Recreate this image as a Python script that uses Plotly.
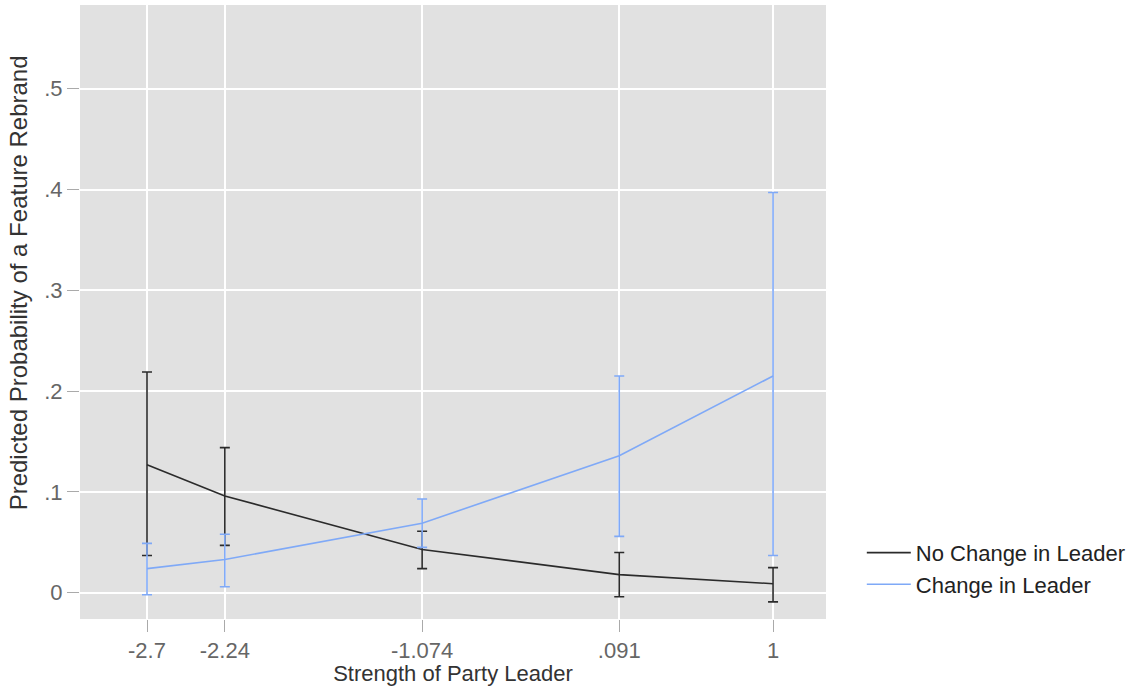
import plotly.graph_objects as go

# Strength of party leader (evaluation points)
strength = [-2.7, -2.24, -1.074, 0.091, 1.0]
tick_text = ["-2.7", "-2.24", "-1.074", ".091", "1"]

# Predicted probabilities with 95% confidence bounds
no_change = [0.127, 0.096, 0.043, 0.018, 0.009]
no_change_hi = [0.219, 0.144, 0.061, 0.040, 0.025]
no_change_lo = [0.037, 0.047, 0.024, -0.004, -0.009]

change = [0.024, 0.033, 0.069, 0.136, 0.215]
change_hi = [0.049, 0.058, 0.093, 0.215, 0.397]
change_lo = [-0.002, 0.006, 0.045, 0.056, 0.037]

y_ticks = [0, 0.1, 0.2, 0.3, 0.4, 0.5]
y_tick_text = ["0", ".1", ".2", ".3", ".4", ".5"]

BLACK = "#2b2b2b"
BLUE = "#7fa9f7"
FONT = "Liberation Sans, Arial, sans-serif"


def err(est, hi, lo):
    return dict(
        type="data",
        symmetric=False,
        array=[h - e for h, e in zip(hi, est)],
        arrayminus=[e - l for e, l in zip(est, lo)],
        thickness=1.6,
        width=5,
    )


fig = go.Figure()
fig.add_trace(go.Scatter(
    x=strength, y=no_change, mode="lines", name="No Change in Leader",
    line=dict(color=BLACK, width=1.6),
    error_y=dict(err(no_change, no_change_hi, no_change_lo), color=BLACK),
))
fig.add_trace(go.Scatter(
    x=strength, y=change, mode="lines", name="Change in Leader",
    line=dict(color=BLUE, width=1.6),
    error_y=dict(err(change, change_hi, change_lo), color=BLUE),
))

fig.update_layout(
    width=1146, height=686,
    margin=dict(l=80, r=320, t=5, b=67),
    paper_bgcolor="white",
    plot_bgcolor="#e1e1e1",
    font=dict(family=FONT, size=22, color="#333"),
    showlegend=True,
    legend=dict(
        x=1.048, y=0.142, xanchor="left", yanchor="top",
        bgcolor="rgba(0,0,0,0)", font=dict(family=FONT, size=22, color="#222"),
        tracegroupgap=5, itemwidth=44,
    ),
    xaxis=dict(
        range=[-3.096, 1.313],
        tickvals=strength, ticktext=tick_text,
        showgrid=True, gridcolor="white", gridwidth=1.5,
        zeroline=False, showline=False,
        ticks="outside", ticklen=12, tickcolor="#aaa", tickwidth=1,
        tickfont=dict(family=FONT, size=22, color="#666"),
        title=dict(text="Strength of Party Leader",
                   font=dict(family=FONT, size=22, color="#333"), standoff=0),
    ),
    yaxis=dict(
        range=[-0.026, 0.583],
        tickvals=y_ticks, ticktext=y_tick_text,
        showgrid=True, gridcolor="white", gridwidth=1.5,
        zeroline=False, showline=False,
        ticks="outside", ticklen=12, tickcolor="#aaa", tickwidth=1,
        tickfont=dict(family=FONT, size=22, color="#666"),
    ),
    annotations=[dict(
        text="Predicted Probability of a Feature Rebrand",
        textangle=-90, xref="paper", yref="paper",
        x=-0.082, y=0.548, xanchor="center", yanchor="middle",
        showarrow=False, font=dict(family=FONT, size=24, color="#333"),
    )],
)

fig.write_html("out.html")
